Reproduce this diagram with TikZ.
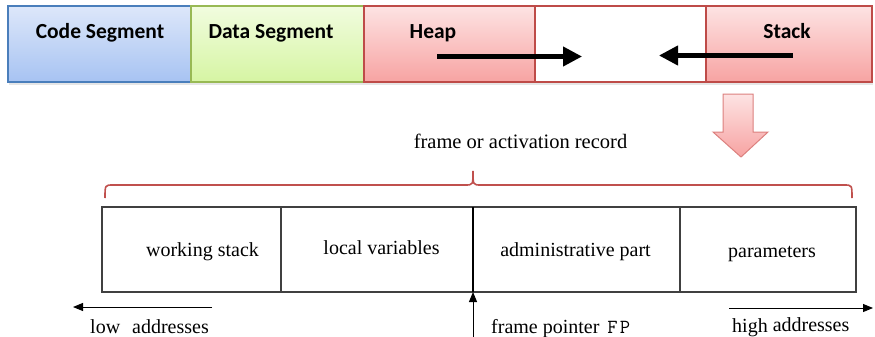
\documentclass[tikz,border=0pt]{standalone}
\usepackage{fontspec}
\setmainfont{Liberation Serif}
\newfontfamily\calfont{Carlito}
\usetikzlibrary{arrows.meta,shadows}
\definecolor{blueB}{HTML}{4A7EBB}
\definecolor{blueT}{HTML}{DDE7FA}
\definecolor{blueM}{HTML}{A7C3F2}
\definecolor{greenB}{HTML}{98B954}
\definecolor{greenT}{HTML}{F1FCDF}
\definecolor{greenM}{HTML}{D6F5A3}
\definecolor{redB}{HTML}{BE4B48}
\definecolor{redT}{HTML}{FDE3E3}
\definecolor{redM}{HTML}{F7A3A2}
\definecolor{arrB}{HTML}{DC807E}
\definecolor{braceC}{HTML}{C0504D}
\definecolor{boxC}{HTML}{404040}
\begin{document}
\begin{tikzpicture}[x=1pt,y=-1pt,
  seg/.style={draw, line width=1.4pt, minimum height=76pt, anchor=north west,
    inner sep=0pt, outer sep=0pt,
    drop shadow={opacity=0.2, shadow xshift=1pt, shadow yshift=-2.5pt}},
  segtxt/.style={font=\calfont\bfseries\fontsize{21.5}{24}\selectfont, anchor=base, inner sep=0pt},
  bigarrow/.style={line width=4.2pt, -{Triangle[length=19pt,width=19pt]}},
  cell/.style={draw=boxC, line width=1.1pt, minimum height=85pt, anchor=north west,
    inner sep=0pt, outer sep=0pt},
  celltxt/.style={font=\fontsize{20}{24}\selectfont, anchor=base, inner sep=0pt},
  lowtxt/.style={font=\fontsize{20}{24}\selectfont, anchor=base west, inner sep=0pt},
  thinarrow/.style={line width=1pt, -{Triangle[length=10pt,width=8pt]}}
]
\useasboundingbox (0,0) rectangle (875,337);
% top bar
\node[seg, draw=blueB, top color=blueT, bottom color=blueM, minimum width=183pt] (code) at (8,6) {};
\node[seg, draw=greenB, top color=greenT, bottom color=greenM, minimum width=173pt] (data) at (191,6) {};
\node[seg, draw=redB, top color=redT, bottom color=redM, minimum width=171pt] (heap) at (364,6) {};
\node[seg, draw=redB, fill=white, minimum width=171pt] (free) at (535,6) {};
\node[seg, draw=redB, top color=redT, bottom color=redM, minimum width=166pt] (stack) at (706,6) {};
\node[segtxt] (codet) at (100,39) {Code Segment};
\node[segtxt] (datat) at (271,39) {Data Segment};
\node[segtxt] (heapt) at (433,39) {Heap};
\node[segtxt] (stackt) at (787,39) {Stack};
\coordinate (ha) at (437,56.5);
\coordinate (hb) at (582,56.5);
\coordinate (sa) at (793,55.5);
\coordinate (sb) at (659,55.5);
\draw[bigarrow] (ha) -- (hb);
\draw[bigarrow] (sa) -- (sb);
% down arrow
\path[draw=arrB, line width=1pt, top color=redT, bottom color=redM, line join=miter]
  (723,94) -- (753,94) -- (753,132) -- (768,132) -- (741,157) -- (713,132) -- (723,132) -- cycle;
% brace
\node[font=\fontsize{20.5}{24}\selectfont, anchor=base, inner sep=0pt] (rec) at (520.5,148) {frame or activation record};
\coordinate (bl) at (105,198);
\coordinate (bm) at (473,171);
\coordinate (br) at (852,198);
\draw[braceC, line width=1.6pt]
  (bl) .. controls (105,185) .. (113,185) -- (465,185) .. controls (473,185) .. (bm)
  .. controls (473,185) .. (481,185) -- (844,185) .. controls (852,185) .. (br);
% frame cells
\node[cell, minimum width=179pt] (ws) at (102,207) {};
\node[cell, minimum width=192pt] (lv) at (281,207) {};
\node[cell, minimum width=207pt] (ap) at (473,207) {};
\node[cell, minimum width=176pt] (pa) at (680,207) {};
\draw[black, line width=1.1pt] (lv.north east) -- (lv.south east);
\node[celltxt] (wst) at (202.5,256) {working stack};
\node[celltxt] (lvt) at (381.5,254) {local variables};
\node[celltxt] (apt) at (575.5,256) {administrative part};
\node[celltxt] (pat) at (772,257) {parameters};
% address arrows
\coordinate (la) at (212,307);
\coordinate (lb) at (73,307);
\draw[thinarrow] (la) -- (lb);
\node[lowtxt] (lowt) at (90,333) {low\hspace{12pt}addresses};
\coordinate (fpa) at (473,337);
\draw[thinarrow] (fpa) -- (ap.south west);
\node[lowtxt] (fpt) at (491,333) {frame pointer\hspace{8pt}{\ttfamily\fontsize{20}{22}\selectfont F\kern2pt P}};
\coordinate (hia) at (729,308);
\coordinate (hib) at (873,308);
\draw[thinarrow] (hia) -- (hib);
\node[lowtxt] (hit) at (732,332.5) {high\raisebox{1.5pt}{ addresses}};
\end{tikzpicture}
\end{document}
